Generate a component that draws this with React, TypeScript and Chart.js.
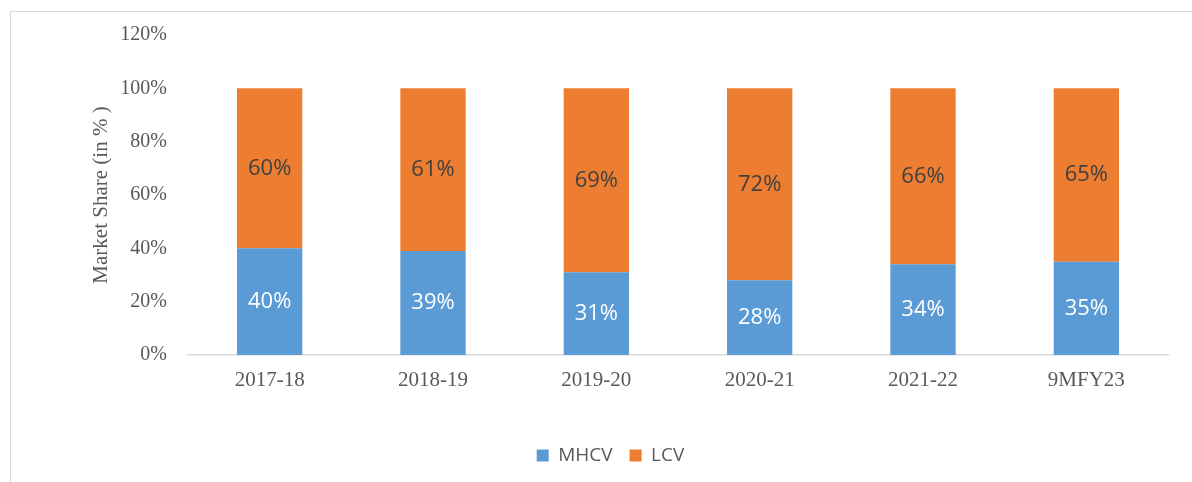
import React, { useEffect, useRef } from "react";
import { Chart, registerables } from "chart.js";

Chart.register(...registerables);

const categories = ["2017-18", "2018-19", "2019-20", "2020-21", "2021-22", "9MFY23"];
const mhcvValues = [40, 39, 31, 28, 34, 35];
const lcvValues = [60, 61, 69, 72, 66, 65];
const yTicks = [0, 20, 40, 60, 80, 100, 120];

const SERIF = "'Liberation Serif', 'Times New Roman', serif";
const SANS = "'Open Sans', 'Liberation Sans', sans-serif";

const dataLabelPlugin = {
  id: "segmentLabels",
  afterDatasetsDraw(chart: any) {
    const ctx = chart.ctx;
    ctx.save();
    ctx.font = `22px ${SANS}`;
    ctx.textAlign = "center";
    ctx.textBaseline = "middle";
    chart.data.datasets.forEach((ds: any, i: number) => {
      const meta = chart.getDatasetMeta(i);
      meta.data.forEach((el: any, j: number) => {
        const v = ds.data[j];
        const cy = (el.y + el.base) / 2;
        ctx.fillStyle = ds.labelColor;
        ctx.fillText(`${v}%`, el.x, cy);
      });
    });
    ctx.restore();
  },
};

export default function App() {
  const ref = useRef<HTMLCanvasElement>(null);

  useEffect(() => {
    if (!ref.current) return;
    const chart = new Chart(ref.current, {
      type: "bar",
      data: {
        labels: categories,
        datasets: [
          {
            label: "MHCV",
            data: mhcvValues,
            backgroundColor: "#5B9BD5",
            borderWidth: 0,
            barPercentage: 0.4,
            categoryPercentage: 1,
            labelColor: "#FFFFFF",
          } as any,
          {
            label: "LCV",
            data: lcvValues,
            backgroundColor: "#ED7D31",
            borderWidth: 0,
            barPercentage: 0.4,
            categoryPercentage: 1,
            labelColor: "#404040",
          } as any,
        ],
      },
      options: {
        responsive: false,
        animation: false,
        layout: { padding: { left: 53, right: 24, top: 35, bottom: 7 } },
        plugins: {
          tooltip: { enabled: false },
          legend: {
            position: "bottom",
            labels: {
              boxWidth: 12,
              boxHeight: 12,
              padding: 17,
              color: "#595959",
              font: { family: SANS, size: 19 },
            },
          },
        },
        scales: {
          x: {
            stacked: true,
            grid: { display: false, drawTicks: false },
            border: { display: true, color: "#D9D9D9", width: 1.5 },
            ticks: {
              color: "#595959",
              padding: 13,
              font: { family: SERIF, size: 21 },
            },
            afterFit: (scale: any) => {
              scale.height = 74;
            },
          },
          y: {
            stacked: true,
            min: 0,
            max: 120,
            grid: { display: false, drawTicks: false },
            border: { display: false },
            afterBuildTicks: (scale: any) => {
              scale.ticks = yTicks.map((v) => ({ value: v }));
            },
            ticks: {
              color: "#595959",
              padding: 21,
              font: { family: SERIF, size: 20 },
              callback: (v: any) => `${v}%`,
            },
            title: {
              display: true,
              text: "Market Share (in % )",
              color: "#595959",
              padding: { top: 36, bottom: 4 },
              font: { family: SERIF, size: 21 },
            },
            afterFit: (scale: any) => {
              scale.width = 135;
            },
          },
        },
      },
      plugins: [dataLabelPlugin],
    });
    return () => chart.destroy();
  }, []);

  return (
    <div style={{ position: "fixed", left: 0, top: 0, width: 1192, height: 482, background: "#fff", overflow: "hidden" }}>
      <div
        style={{
          position: "absolute",
          left: 10,
          top: 11,
          width: 1300,
          height: 600,
          borderLeft: "1px solid #D9D9D9",
          borderTop: "1px solid #D9D9D9",
        }}
      />
      <canvas ref={ref} width={1192} height={482} style={{ position: "absolute", left: 0, top: 0 }} />
    </div>
  );
}
